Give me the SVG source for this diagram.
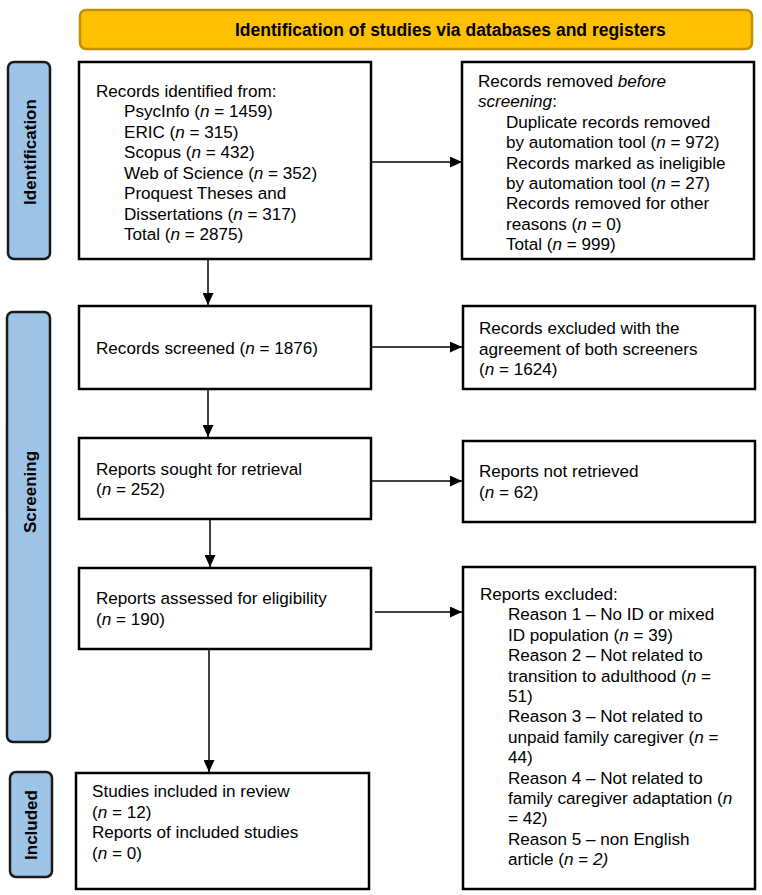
<svg xmlns="http://www.w3.org/2000/svg" width="762" height="895" viewBox="0 0 762 895">
<style>
  .box { fill: #ffffff; stroke: #000000; stroke-width: 2.5; }
  .bar { fill: #9DC3E6; stroke: #1a1a1a; stroke-width: 2.5; }
  .banner { fill: #FFC000; stroke: #BF9000; stroke-width: 2.5; }
  .t { font-family: "Liberation Sans", Arial, sans-serif; font-size: 17.1px; fill: #000000; }
  .b { font-family: "Liberation Sans", Arial, sans-serif; font-size: 17px; font-weight: bold; fill: #000000; }
  .i { font-style: italic; }
  .c { stroke: #000000; stroke-width: 1.5; fill: none; marker-end: url(#ah); }
</style>
<defs>
  <marker id="ah" viewBox="0 0 12 11" refX="12" refY="5.5" markerWidth="12" markerHeight="11" markerUnits="userSpaceOnUse" orient="auto">
    <path d="M0,0 L12,5.5 L0,11 z" fill="#000000"/>
  </marker>
</defs>
<rect width="762" height="895" fill="#ffffff"/>

<g id="banner">
  <rect class="banner" x="80" y="10" width="672" height="39" rx="6" ry="6"/>
  <text class="b" x="235" y="36" style="font-size:17.5px">Identification of studies via databases and registers</text>
</g>

<g id="bar-identification">
  <rect class="bar" x="8" y="62" width="42" height="197" rx="6" ry="6"/>
  <text class="b" text-anchor="middle" transform="translate(35.5,152) rotate(-90)">Identification</text>
</g>
<g id="bar-screening">
  <rect class="bar" x="7" y="312" width="43" height="430" rx="6" ry="6"/>
  <text class="b" text-anchor="middle" transform="translate(35.5,492) rotate(-90)">Screening</text>
</g>
<g id="bar-included">
  <rect class="bar" x="10" y="772" width="42" height="105" rx="6" ry="6"/>
  <text class="b" text-anchor="middle" transform="translate(37,825) rotate(-90)">Included</text>
</g>

<g id="records-identified">
  <rect class="box" x="79" y="62" width="292" height="197"/>
  <text class="t" x="96" y="96.5">Records identified from:</text>
  <text class="t" x="124" y="117">PsycInfo (<tspan class="i">n</tspan> = 1459)</text>
  <text class="t" x="124" y="137.5">ERIC (<tspan class="i">n</tspan> = 315)</text>
  <text class="t" x="124" y="158">Scopus (<tspan class="i">n</tspan> = 432)</text>
  <text class="t" x="124" y="178.5">Web of Science (<tspan class="i">n</tspan> = 352)</text>
  <text class="t" x="124" y="199">Proquest Theses and</text>
  <text class="t" x="124" y="219.5">Dissertations (<tspan class="i">n</tspan> = 317)</text>
  <text class="t" x="124" y="240">Total (<tspan class="i">n</tspan> = 2875)</text>
</g>

<g id="records-removed">
  <rect class="box" x="462" y="62" width="292" height="197"/>
  <text class="t" x="478" y="87">Records removed <tspan class="i">before</tspan></text>
  <text class="t" x="478" y="107.4"><tspan class="i">screening</tspan>:</text>
  <text class="t" x="506" y="127.8">Duplicate records removed</text>
  <text class="t" x="506" y="148.2">by automation tool (<tspan class="i">n</tspan> = 972)</text>
  <text class="t" x="506" y="168.6">Records marked as ineligible</text>
  <text class="t" x="506" y="189">by automation tool (<tspan class="i">n</tspan> = 27)</text>
  <text class="t" x="506" y="209.4">Records removed for other</text>
  <text class="t" x="506" y="229.8">reasons (<tspan class="i">n</tspan> = 0)</text>
  <text class="t" x="506" y="250.2">Total (<tspan class="i">n</tspan> = 999)</text>
</g>

<g id="records-screened">
  <rect class="box" x="79" y="306" width="292" height="83"/>
  <text class="t" x="96" y="354">Records screened (<tspan class="i">n</tspan> = 1876)</text>
</g>

<g id="records-excluded">
  <rect class="box" x="463" y="306" width="292" height="83"/>
  <text class="t" x="479" y="334">Records excluded with the</text>
  <text class="t" x="479" y="354.5">agreement of both screeners</text>
  <text class="t" x="479" y="375">(<tspan class="i">n</tspan> = 1624)</text>
</g>

<g id="reports-sought">
  <rect class="box" x="79" y="438" width="292" height="81"/>
  <text class="t" x="96" y="474.5">Reports sought for retrieval</text>
  <text class="t" x="96" y="495">(<tspan class="i">n</tspan> = 252)</text>
</g>

<g id="reports-not-retrieved">
  <rect class="box" x="463" y="441" width="292" height="81"/>
  <text class="t" x="479" y="477">Reports not retrieved</text>
  <text class="t" x="479" y="497.5">(<tspan class="i">n</tspan> = 62)</text>
</g>

<g id="reports-assessed">
  <rect class="box" x="79" y="568" width="292" height="81"/>
  <text class="t" x="96" y="604">Reports assessed for eligibility</text>
  <text class="t" x="96" y="624.5">(<tspan class="i">n</tspan> = 190)</text>
</g>

<g id="reports-excluded">
  <rect class="box" x="463" y="567" width="292" height="322"/>
  <text class="t" x="480" y="600">Reports excluded:</text>
  <text class="t" x="508" y="620.4">Reason 1 – No ID or mixed</text>
  <text class="t" x="508" y="640.8">ID population (<tspan class="i">n</tspan> = 39)</text>
  <text class="t" x="508" y="661.2">Reason 2 – Not related to</text>
  <text class="t" x="508" y="681.6">transition to adulthood (<tspan class="i">n</tspan> =</text>
  <text class="t" x="508" y="702">51)</text>
  <text class="t" x="508" y="722.4">Reason 3 – Not related to</text>
  <text class="t" x="508" y="742.8">unpaid family caregiver (<tspan class="i">n</tspan> =</text>
  <text class="t" x="508" y="763.2">44)</text>
  <text class="t" x="508" y="783.6">Reason 4 – Not related to</text>
  <text class="t" x="508" y="804">family caregiver adaptation (<tspan class="i">n</tspan></text>
  <text class="t" x="508" y="824.4">= 42)</text>
  <text class="t" x="508" y="844.8">Reason 5 – non English</text>
  <text class="t" x="508" y="865.2">article (<tspan class="i">n</tspan> = <tspan class="i">2)</tspan></text>
</g>

<g id="studies-included">
  <rect class="box" x="76" y="773" width="293" height="116"/>
  <text class="t" x="92" y="797">Studies included in review</text>
  <text class="t" x="92" y="817.5">(<tspan class="i">n</tspan> = 12)</text>
  <text class="t" x="92" y="838">Reports of included studies</text>
  <text class="t" x="92" y="858.5">(<tspan class="i">n</tspan> = 0)</text>
</g>

<g id="connectors">
  <line class="c" x1="372" y1="162" x2="462" y2="162"/>
  <line class="c" x1="208" y1="260" x2="208" y2="305"/>
  <line class="c" x1="372" y1="347" x2="462" y2="347"/>
  <line class="c" x1="208" y1="390" x2="208" y2="437"/>
  <line class="c" x1="372" y1="481" x2="462" y2="481"/>
  <line class="c" x1="210" y1="520" x2="210" y2="567"/>
  <line class="c" x1="375" y1="612" x2="462" y2="612"/>
  <line class="c" x1="209" y1="650" x2="209" y2="772"/>
</g>
</svg>
